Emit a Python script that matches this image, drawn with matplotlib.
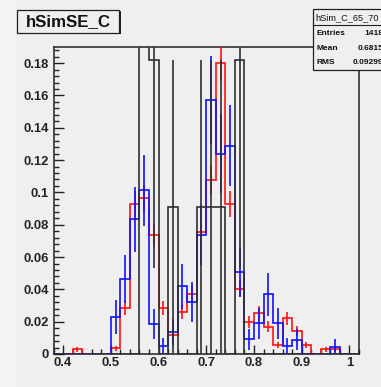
import numpy as np
import matplotlib
matplotlib.use("Agg")
import matplotlib.pyplot as plt
from matplotlib.patches import Rectangle
from matplotlib.lines import Line2D

# ---- histogram content (bin width 0.02, range 0.38 - 1.02) ----
bin_edges = [0.38, 0.40, 0.42, 0.44, 0.46, 0.48, 0.50, 0.52, 0.54, 0.56, 0.58,
             0.60, 0.62, 0.64, 0.66, 0.68, 0.70, 0.72, 0.74, 0.76, 0.78, 0.80,
             0.82, 0.84, 0.86, 0.88, 0.90, 0.92, 0.94, 0.96, 0.98, 1.00, 1.02]

red_vals = [0, 0, 0.003, 0, 0, 0, 0.0035, 0.0285, 0.093, 0.0965, 0.0735,
            0.0285, 0.0117, 0.0258, 0.0369, 0.0756, 0.1075, 0.180, 0.093,
            0.0404, 0.0197, 0.0255, 0.0169, 0.0056, 0.022, 0.0142, 0.0056,
            0, 0.003, 0.003, 0, 0]
red_errs = [0, 0, 0.0015, 0, 0, 0, 0.0016, 0.0045, 0.0081, 0.0082, 0.0072,
            0.0045, 0.0029, 0.0043, 0.0051, 0.0073, 0.0087, 0.0113, 0.0081,
            0.0053, 0.0037, 0.0042, 0.0035, 0.0020, 0.0039, 0.0032, 0.0020,
            0, 0.0015, 0.0015, 0, 0]

blue_vals = [0, 0, 0, 0, 0, 0, 0.023, 0.0465, 0.0834, 0.1014, 0.0186,
             0.005, 0.0138, 0.042, 0.0323, 0.0738, 0.157, 0.124, 0.129,
             0.0507, 0.009, 0.019, 0.0369, 0.019, 0.005, 0.0087, 0,
             0, 0, 0.0045, 0, 0]
blue_errs = [0, 0, 0, 0, 0, 0, 0.0105, 0.0148, 0.020, 0.022, 0.0095,
             0.0048, 0.0081, 0.014, 0.0125, 0.0187, 0.0273, 0.0243, 0.0248,
             0.0155, 0.0067, 0.0095, 0.0133, 0.0095, 0.0048, 0.0065, 0,
             0, 0, 0.0047, 0, 0]

black_vals = [0, 0, 0, 0, 0, 0, 0, 0, 0, 0.2727, 0.1818,
              0, 0.0909, 0, 0, 0.0909, 0.0909, 0.0909, 0,
              0.1818, 0, 0, 0, 0, 0, 0, 0,
              0, 0, 0, 0, 0]
black_errs = [0, 0, 0, 0, 0, 0, 0, 0, 0, 0.1575, 0.1286,
              0, 0.0909, 0, 0, 0.0909, 0.0909, 0.0909, 0,
              0.1286, 0, 0, 0, 0, 0, 0, 0,
              0, 0, 0, 0, 0]

x_major = [0.4, 0.5, 0.6, 0.7, 0.8, 0.9, 1.0]
x_labels = ["0.4", "0.5", "0.6", "0.7", "0.8", "0.9", "1"]
y_major = [0, 0.02, 0.04, 0.06, 0.08, 0.10, 0.12, 0.14, 0.16, 0.18]
y_labels = ["0", "0.02", "0.04", "0.06", "0.08", "0.1", "0.12", "0.14", "0.16", "0.18"]

title_text = "hSimSE_C"
stats_name = "hSim_C_65_70"
stats_rows = [("Entries", "1418"), ("Mean", "0.6815"), ("RMS", "0.09299")]

# ---- figure ----
W, H = 381, 387
BG = "#efefef"
FONT = "Liberation Sans"

fig = plt.figure(figsize=(W / 100, H / 100), dpi=100, facecolor=BG)


def fx(px):
    return px / W


def fy(py):
    return 1 - py / H


fig.add_artist(Rectangle((0, 0), fx(16), 1, transform=fig.transFigure,
                         facecolor="#f4f4f4", edgecolor="none", zorder=-5))

ax = fig.add_axes([fx(53.5), fy(354), fx(359) - fx(53.5), fy(47) - fy(354)])
ax.set_facecolor(BG)
ax.set_xlim(0.38, 1.02)
ax.set_ylim(0, 0.19)

edges = np.asarray(bin_edges)
centers = 0.5 * (edges[:-1] + edges[1:])


def draw_hist(vals, errs, color, lw, z):
    vals = np.asarray(vals, dtype=float)
    errs = np.asarray(errs, dtype=float)
    ax.stairs(vals, edges, color=color, lw=lw, baseline=0, zorder=z)
    top = ax.get_ylim()[1]
    show = (vals > 0) & (vals <= top)
    ax.errorbar(centers[show], vals[show], yerr=errs[show], fmt="none",
                ecolor=color, elinewidth=lw, capsize=0, zorder=z)


draw_hist(red_vals, red_errs, "#ff1010", 1.2, 3)
draw_hist(blue_vals, blue_errs, "#1010ff", 1.2, 4)
draw_hist(black_vals, black_errs, "#303030", 1.2, 5)

# ---- axes styling ----
for s in ax.spines.values():
    s.set_linewidth(1.1)
    s.set_color("#202020")

ax.set_xticks(x_major)
ax.set_xticklabels(x_labels)
ax.set_xticks(np.round(np.arange(0.38, 1.021, 0.02), 3), minor=True)
ax.set_yticks(y_major)
ax.set_yticklabels(y_labels)
ax.set_yticks(np.round(np.arange(0, 0.19, 0.004), 4), minor=True)

ax.tick_params(which="both", direction="in", top=False, right=False,
               colors="#202020", width=1.0)
ax.tick_params(axis="y", which="major", length=7.2, pad=3.5)
ax.tick_params(axis="y", which="minor", length=3.6)
ax.tick_params(axis="x", which="major", length=6.5, pad=2.5)
ax.tick_params(axis="x", which="minor", length=3.3)
for lab in ax.get_xticklabels() + ax.get_yticklabels():
    lab.set_fontfamily(FONT)
    lab.set_fontweight("bold")
    lab.set_fontsize(9.4)
    lab.set_color("#222222")

# ---- title box ----
tx0, ty0, tx1, ty1 = 17.3, 10.0, 119.5, 33.0
fig.add_artist(Rectangle((fx(tx0 + 1.3), fy(ty1 + 1.3)), fx(tx1 - tx0), fy(ty0) - fy(ty1),
                         transform=fig.transFigure, facecolor="#202020",
                         edgecolor="none", zorder=10))
fig.add_artist(Rectangle((fx(tx0), fy(ty1)), fx(tx1 - tx0), fy(ty0) - fy(ty1),
                         transform=fig.transFigure, facecolor=BG,
                         edgecolor="#202020", lw=0.9, zorder=11))
fig.text(fx((tx0 + tx1) / 2), fy((ty0 + ty1) / 2 + 0.5), title_text,
         ha="center", va="center", fontsize=12.2, fontweight="bold",
         family=FONT, color="#111111", zorder=12)

# ---- statistics box ----
sx0, sy0, sx1, sy1 = 313.3, 9.3, 400.0, 70.0
fig.add_artist(Rectangle((fx(sx0 + 1.3), fy(sy1 + 1.3)), fx(sx1 - sx0), fy(sy0) - fy(sy1),
                         transform=fig.transFigure, facecolor="#202020",
                         edgecolor="none", zorder=10))
fig.add_artist(Rectangle((fx(sx0), fy(sy1)), fx(sx1 - sx0), fy(sy0) - fy(sy1),
                         transform=fig.transFigure, facecolor=BG,
                         edgecolor="#202020", lw=0.9, zorder=11))
fig.add_artist(Line2D([fx(sx0), fx(sx1)], [fy(25.0), fy(25.0)],
                      transform=fig.transFigure, color="#202020", lw=0.8, zorder=12))
fig.text(fx(315.5), fy(17.5), stats_name, ha="left", va="center",
         fontsize=6.6, family=FONT, color="#111111", zorder=12)
for i, (name, val) in enumerate(stats_rows):
    yy = fy(33.5 + i * 14.5)
    fig.text(fx(316.5), yy, name, ha="left", va="center", fontsize=6.0,
             family=FONT, fontweight="bold", color="#111111", zorder=12)
    fig.text(fx(383.5), yy, val, ha="right", va="center", fontsize=6.0,
             family=FONT, fontweight="bold", color="#111111", zorder=12)

fig.savefig("out.png", dpi=100, facecolor=BG)
